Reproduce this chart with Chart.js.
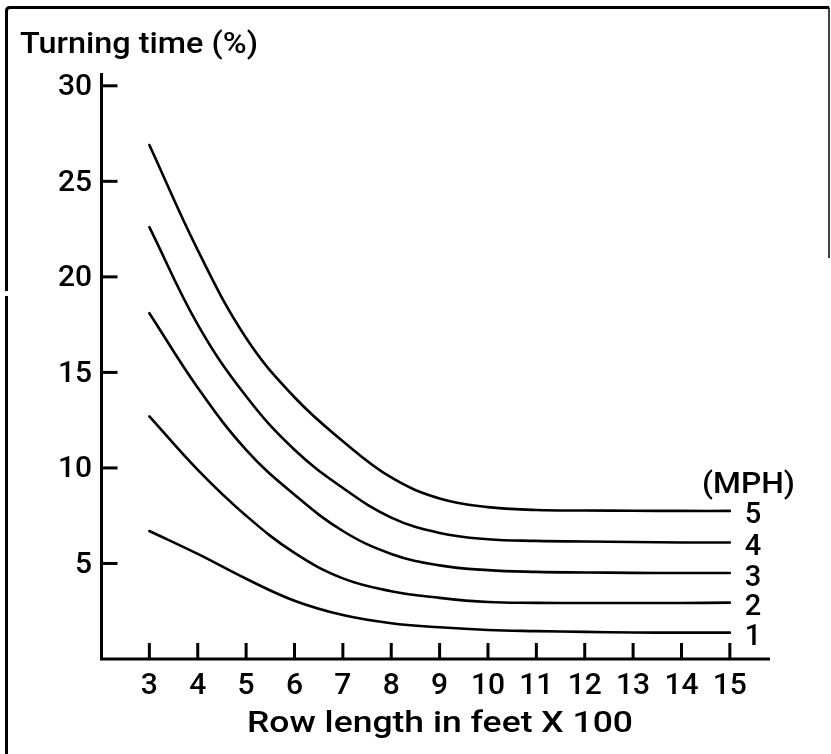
<!DOCTYPE html>
<html><head><meta charset="utf-8">
<script src="https://cdn.jsdelivr.net/npm/chart.js@4"></script>
<style>html,body{margin:0;padding:0;background:#fff}canvas{display:block}</style>
</head><body>
<canvas id="c" width="831" height="754"></canvas>
<script>
// ---- data ----
const rowLength = [3, 4, 5, 6, 7, 8, 9, 10, 11, 12, 13, 14, 15];
const mph1 = [6.7, 5.5, 4.2, 3.05, 2.3, 1.87, 1.66, 1.52, 1.46, 1.42, 1.39, 1.38, 1.38];
const mph2 = [12.7, 9.9, 7.5, 5.55, 4.22, 3.55, 3.2, 2.98, 2.94, 2.93, 2.93, 2.93, 2.95];
const mph3 = [18.1, 14.2, 10.95, 8.6, 6.7, 5.5, 4.9, 4.65, 4.56, 4.53, 4.51, 4.5, 4.5];
const mph4 = [22.6, 17.5, 13.75, 10.95, 8.95, 7.4, 6.6, 6.27, 6.18, 6.15, 6.12, 6.1, 6.1];
const mph5 = [26.9, 21.4, 16.8, 13.7, 11.4, 9.5, 8.4, 7.95, 7.8, 7.77, 7.76, 7.75, 7.75];
const speedLabels = ['1', '2', '3', '4', '5'];
const yTickValues = [5, 10, 15, 20, 25, 30];
const xTickValues = [3, 4, 5, 6, 7, 8, 9, 10, 11, 12, 13, 14, 15];
const yTitle = 'Turning time (%)';
const xTitle = 'Row length in feet X 100';
const legendTitle = '(MPH)';

const series = [mph1, mph2, mph3, mph4, mph5];
const FONT = '"Roboto", "DejaVu Sans", sans-serif';

function fitText(ctx, txt, x, y, size, width) {
  ctx.font = '500 ' + size + 'px ' + FONT;
  const w = ctx.measureText(txt).width;
  ctx.save();
  ctx.translate(x, y);
  ctx.scale(width / w, 1);
  ctx.textAlign = 'left';
  ctx.textBaseline = 'alphabetic';
  ctx.fillText(txt, 0, 0);
  ctx.restore();
}

const deco = {
  id: 'deco',
  afterDraw(chart) {
    const { ctx, chartArea: a, scales: { x, y } } = chart;
    ctx.save();
    ctx.strokeStyle = '#000';
    ctx.fillStyle = '#000';
    // frame
    ctx.lineWidth = 3;
    ctx.beginPath();
    ctx.moveTo(6.5, 754); ctx.lineTo(6.5, 296);
    ctx.moveTo(6.5, 291); ctx.lineTo(6.5, 11);
    ctx.quadraticCurveTo(6.5, 7.5, 10, 7.5);
    ctx.lineTo(829, 7.5);
    ctx.stroke();
    ctx.lineWidth = 1.5;
    ctx.beginPath(); ctx.moveTo(829, 7.5); ctx.lineTo(829, 258); ctx.stroke();

    // axes
    const L = a.left + 0.5, B = a.bottom;
    ctx.lineWidth = 3;
    ctx.beginPath();
    ctx.moveTo(L, a.top); ctx.lineTo(L, B); ctx.lineTo(a.right, B);
    ctx.stroke();

    // y ticks + labels
    ctx.font = '500 30px ' + FONT;
    ctx.textAlign = 'right';
    ctx.textBaseline = 'middle';
    yTickValues.forEach(v => {
      const py = y.getPixelForValue(v);
      ctx.beginPath(); ctx.moveTo(L, py); ctx.lineTo(L + 16, py); ctx.stroke();
      ctx.fillText(String(v), 92, py + 2);
    });
    // x ticks + labels
    ctx.textAlign = 'center';
    ctx.textBaseline = 'alphabetic';
    xTickValues.forEach(v => {
      const px = x.getPixelForValue(v);
      ctx.beginPath(); ctx.moveTo(px, B); ctx.lineTo(px, B - 16); ctx.stroke();
      ctx.fillText(String(v), px, 694);
    });

    // titles
    fitText(ctx, yTitle, 20, 53, 30, 238);
    fitText(ctx, xTitle, 247, 732, 29, 386);
    fitText(ctx, legendTitle, 702, 493, 29, 93);

    // curve labels
    ctx.font = '500 29px ' + FONT;
    ctx.textAlign = 'center';
    ctx.textBaseline = 'alphabetic';
    series.forEach((s, i) => {
      const py = y.getPixelForValue(s[s.length - 1]);
      ctx.fillText(speedLabels[i], 753, py + 12.5);
    });
    ctx.restore();
  }
};

new Chart(document.getElementById('c'), {
  type: 'line',
  data: {
    datasets: series.map((s, i) => ({
      label: speedLabels[i] + ' MPH',
      data: rowLength.map((r, j) => ({ x: r, y: s[j] })),
      borderColor: '#000',
      borderWidth: 2.6,
      pointRadius: 0,
      fill: false,
      tension: 0.4,
      borderCapStyle: 'round'
    }))
  },
  options: {
    responsive: false,
    animation: false,
    devicePixelRatio: 1,
    layout: { padding: { left: 101, right: 61, top: 73, bottom: 95 } },
    plugins: { legend: { display: false }, tooltip: { enabled: false } },
    scales: {
      x: { type: 'linear', min: 2, max: 15.83, display: false },
      y: { type: 'linear', min: 0, max: 30.67, display: false }
    }
  },
  plugins: [deco]
});
</script>
</body></html>
